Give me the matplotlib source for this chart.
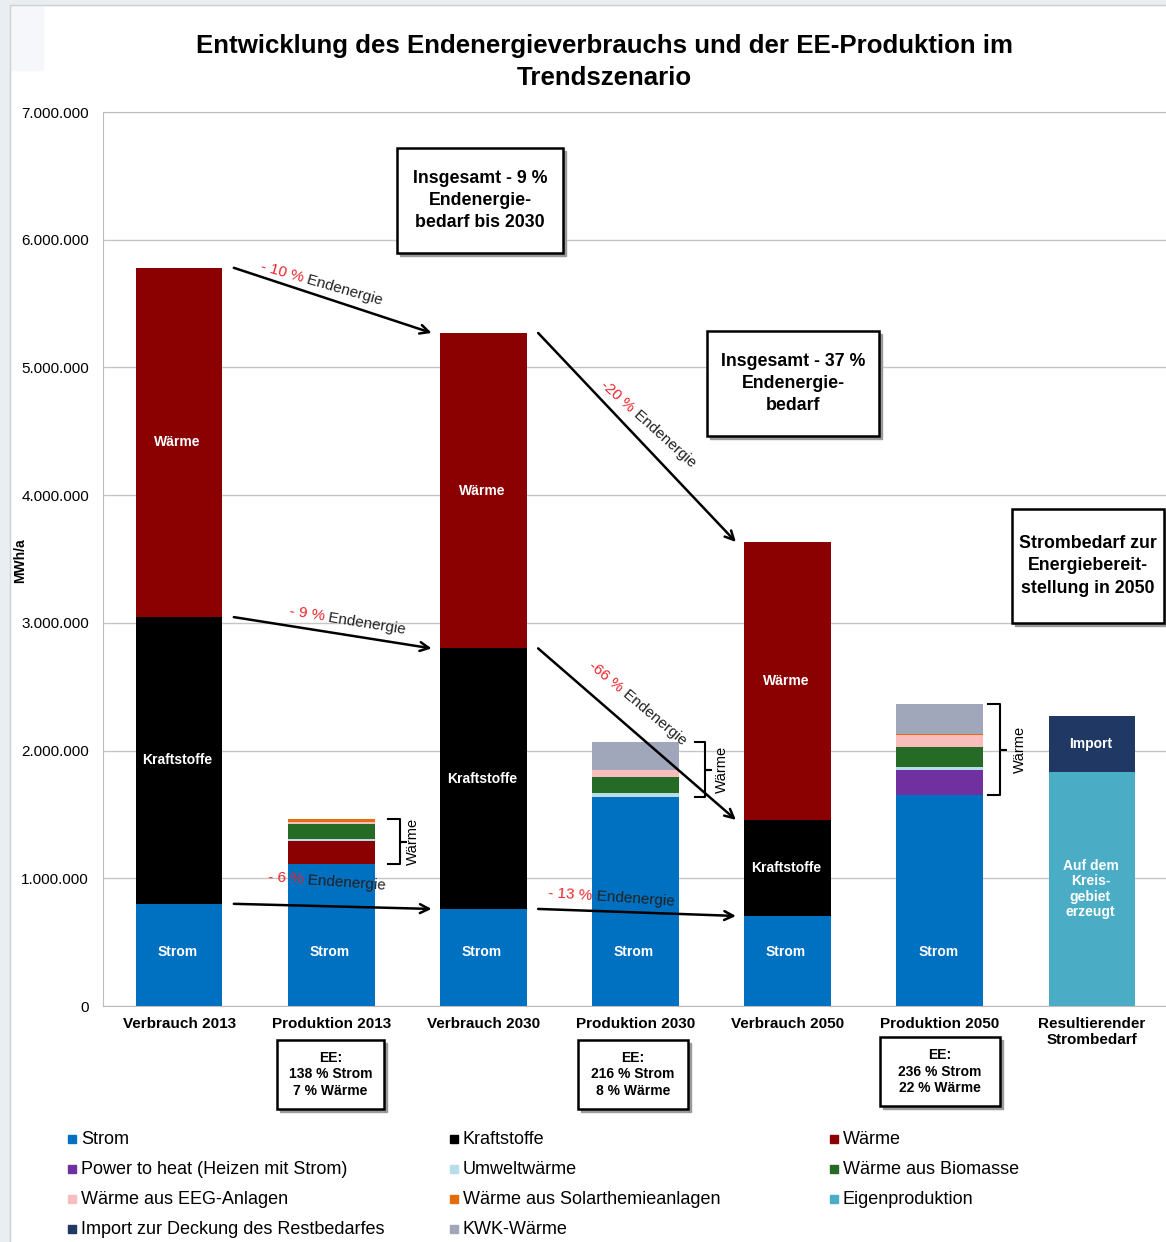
import matplotlib
matplotlib.use("Agg")
import matplotlib.pyplot as plt
from matplotlib.patches import Rectangle
from matplotlib.lines import Line2D
from matplotlib.ticker import FuncFormatter, MultipleLocator

plt.rcParams['font.family'] = ['Liberation Sans', 'DejaVu Sans']

W, H = 1166, 1242

kategorien = ["Verbrauch 2013", "Produktion 2013", "Verbrauch 2030", "Produktion 2030",
              "Verbrauch 2050", "Produktion 2050", "Resultierender\nStrombedarf"]

# Werte in MWh/a je Kategorie
strom           = [800000, 1110000, 760000, 1635000, 705000, 1650000, 0]
kraftstoffe     = [2245000, 0, 2040000, 0, 752000, 0, 0]
waerme          = [2735000, 180000, 2470000, 0, 2176000, 0, 0]
power_to_heat   = [0, 0, 0, 0, 0, 195000, 0]
umweltwaerme    = [0, 15000, 0, 30000, 0, 30000, 0]
biomasse        = [0, 120000, 0, 125000, 0, 150000, 0]
eeg_anlagen     = [0, 12000, 0, 55000, 0, 95000, 0]
solarthermie    = [0, 25000, 0, 0, 0, 10000, 0]
eigenproduktion = [0, 0, 0, 0, 0, 0, 1832000]
import_rest     = [0, 0, 0, 0, 0, 0, 440000]
kwk_waerme      = [0, 0, 0, 220000, 0, 235000, 0]

ee_boxen = ["EE:\n138 % Strom\n7 % Wärme", "EE:\n216 % Strom\n8 % Wärme", "EE:\n236 % Strom\n22 % Wärme"]
pfeil_texte = ["- 10 %", "-20 %", "- 9 %", "-66 %", "- 6 %", "- 13 %"]

serien = [
    ("Strom", strom, "#0070C0"),
    ("Kraftstoffe", kraftstoffe, "#000000"),
    ("Wärme", waerme, "#8B0000"),
    ("Power to heat (Heizen mit Strom)", power_to_heat, "#7030A0"),
    ("Umweltwärme", umweltwaerme, "#B7DEE8"),
    ("Wärme aus Biomasse", biomasse, "#256B25"),
    ("Wärme aus EEG-Anlagen", eeg_anlagen, "#F9BDBD"),
    ("Wärme aus Solarthemieanlagen", solarthermie, "#E46C0A"),
    ("Eigenproduktion", eigenproduktion, "#4BACC6"),
    ("Import zur Deckung des Restbedarfes", import_rest, "#1F3864"),
    ("KWK-Wärme", kwk_waerme, "#A0A7BB"),
]

# Beschriftungen in den Balken
balken_text = {"Strom": "Strom", "Kraftstoffe": "Kraftstoffe", "Wärme": "Wärme",
               "Eigenproduktion": "Auf dem\nKreis-\ngebiet\nerzeugt",
               "Import zur Deckung des Restbedarfes": "Import"}


def fx(px):
    return px / W


def fy(py):
    return 1 - py / H


fig = plt.figure(figsize=(W / 100, H / 100), dpi=100, facecolor="white")

# Hintergrund / Rahmen
fig.patches.append(Rectangle((0, 0), fx(10), 1, transform=fig.transFigure,
                             color="#e9eef3", zorder=0))
fig.patches.append(Rectangle((0, fy(5)), 1, 5 / H, transform=fig.transFigure,
                             color="#e9eef3", zorder=0))
fig.patches.append(Rectangle((fx(10), fy(70)), 33 / W, 65 / H, transform=fig.transFigure,
                             color="#f5f7fa", zorder=0))
fig.lines.append(Line2D([fx(10), fx(10), 1], [0, fy(5), fy(5)], transform=fig.transFigure,
                        color="#cfcfcf", lw=1))

ax = fig.add_axes([fx(103), fy(1006), (1168 - 103) / W, (1006 - 112) / H])
x = list(range(len(kategorien)))
breite = 0.57

unten = [0] * len(kategorien)
oben_nach_serie = {}
for name, werte, farbe in serien:
    ax.bar(x, werte, breite, bottom=unten, color=farbe, zorder=3)
    if name in balken_text:
        for i, v in enumerate(werte):
            if v >= 400000:
                if name == "Strom":
                    yy = 420000
                else:
                    yy = unten[i] + v / 2
                ax.text(i - 0.01, yy, balken_text[name], color="white", fontweight="bold",
                        fontsize=10, ha="center", va="center", zorder=4, linespacing=1.15)
    unten = [u + v for u, v in zip(unten, werte)]
    oben_nach_serie[name] = list(unten)

ax.set_xlim(-0.5, 6.5)
ax.set_ylim(0, 7000000)
ax.yaxis.set_major_locator(MultipleLocator(1000000))
ax.yaxis.set_major_formatter(FuncFormatter(lambda v, _: f"{int(v):,}".replace(",", ".")))
ax.grid(axis="y", color="#c6c6c6", lw=1, zorder=0)
ax.set_axisbelow(True)
ax.set_xticks(x)
ax.set_xticklabels(kategorien, fontweight="bold", fontsize=11)
ax.tick_params(axis="x", length=0, pad=8)
ax.tick_params(axis="y", length=0, pad=10, labelsize=11)
for s in ["left", "bottom", "top"]:
    ax.spines[s].set_color("#bdbdbd")
ax.spines["right"].set_visible(False)

fig.text(fx(20), fy(561), "MWh/a", rotation=90, fontweight="bold", fontsize=10,
         ha="center", va="center")

# Pfeile zwischen den Verbrauchsbalken
stufen = ["Wärme", "Wärme", "Kraftstoffe", "Kraftstoffe", "Strom", "Strom"]
starts = [0, 2, 0, 2, 0, 2]
anker = [(0.816, 5.70e6, -16), (2.98, 4.667e6, -42), (0.954, 3.046e6, -9),
         (2.908, 2.475e6, -40), (0.816, 0.987e6, -4), (2.717, 0.861e6, -4)]
for stufe, i, txt, (axp, ayp, rot) in zip(stufen, starts, pfeil_texte, anker):
    oben = oben_nach_serie[stufe]
    ax.annotate("", xy=(i + 2 - 0.34, oben[i + 2]), xytext=(i + 0.36, oben[i]),
                arrowprops=dict(arrowstyle="->", lw=1.8, color="black",
                                mutation_scale=16, shrinkA=0, shrinkB=0), zorder=5)
    ax.text(axp, ayp, txt, color="#E8262B", fontsize=11, rotation=rot,
            rotation_mode="anchor", ha="right", va="center", zorder=6)
    ax.text(axp, ayp, " Endenergie", color="#222222", fontsize=11, rotation=rot,
            rotation_mode="anchor", ha="left", va="center", zorder=6)

# Klammern für den Wärmeanteil der Produktion
for i, (a, b, c, t) in zip([1, 3, 5], [(0.37, 0.45, 0.49, 0.54),
                                      (0.39, 0.455, 0.495, 0.57),
                                      (0.32, 0.395, 0.435, 0.53)]):
    lo = oben_nach_serie["Strom"][i]
    hi = oben_nach_serie["KWK-Wärme"][i]
    mid = (lo + hi) / 2
    ax.plot([i + a, i + b, i + b, i + c, i + b, i + b, i + a],
            [hi, hi, mid, mid, mid, lo, lo], color="black", lw=1.5, zorder=5,
            solid_joinstyle="round")
    ax.text(i + t, mid, "Wärme", rotation=90, fontsize=10.5,
            ha="center", va="center", zorder=5)


def kasten(x0, y0, x1, y1, text, fs, ls):
    fig.patches.append(Rectangle((fx(x0 + 3), fy(y1 + 3)), (x1 - x0) / W, (y1 - y0) / H,
                                 transform=fig.transFigure, color="#9a9a9a", zorder=7))
    fig.patches.append(Rectangle((fx(x0), fy(y1)), (x1 - x0) / W, (y1 - y0) / H,
                                 transform=fig.transFigure, fc="white", ec="black",
                                 lw=1.8, zorder=8))
    fig.text(fx((x0 + x1) / 2), fy((y0 + y1) / 2), text, ha="center", va="center",
             fontsize=fs, fontweight="bold", zorder=9, linespacing=ls)


kasten(397, 148, 563, 253, "Insgesamt - 9 %\nEndenergie-\nbedarf bis 2030", 12.8, 1.4)
kasten(707, 331, 879, 436, "Insgesamt - 37 %\nEndenergie-\nbedarf", 12.8, 1.4)
kasten(1012, 509, 1164, 623, "Strombedarf zur\nEnergiebereit-\nstellung in 2050", 12.8, 1.4)
for (x0, y0, x1, y1), t in zip([(277, 1040, 384, 1109), (578, 1040, 688, 1109),
                                 (880, 1037, 1000, 1106)], ee_boxen):
    kasten(x0, y0, x1, y1, t, 10, 1.2)

fig.text(fx(604), fy(62), "Entwicklung des Endenergieverbrauchs und der EE-Produktion im\nTrendszenario",
         ha="center", va="center", fontsize=18.6, fontweight="bold", linespacing=1.38)

# Legende
spalten = [68, 450, 830]
zeilen = [1139, 1169, 1199, 1229]
for k, (name, werte, farbe) in enumerate(serien):
    lx = spalten[k % 3]
    ly = zeilen[k // 3]
    fig.patches.append(Rectangle((fx(lx), fy(ly + 4)), 8 / W, 8 / H,
                                 transform=fig.transFigure, color=farbe))
    fig.text(fx(lx + 13), fy(ly), name, va="center", ha="left", fontsize=13)

fig.savefig("out.png", dpi=100, facecolor=fig.get_facecolor())
